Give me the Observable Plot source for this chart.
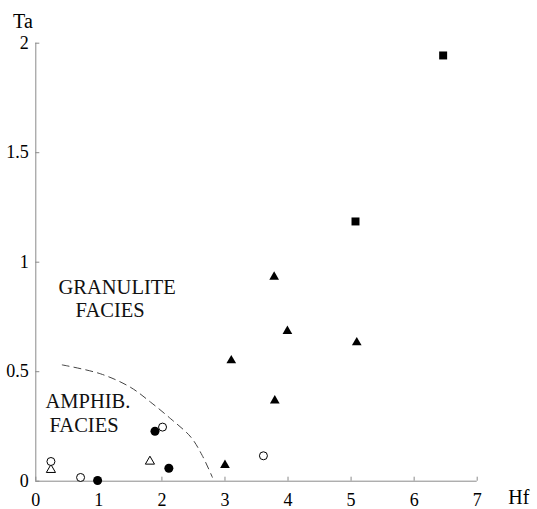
<!DOCTYPE html>
<html>
<head>
<meta charset="utf-8">
<script src="https://cdn.jsdelivr.net/npm/d3@7"></script>
<script src="https://cdn.jsdelivr.net/npm/@observablehq/plot@0.6"></script>
<style>
  html, body { margin: 0; padding: 0; background: #fff; }
  svg { display: block; }
  svg text { font-family: "Liberation Serif", "Times New Roman", serif; }
</style>
</head>
<body>
<div id="chart"></div>
<script>
// ---- data (Hf vs Ta) ----
const xTicks = [0, 1, 2, 3, 4, 5, 6, 7];
const yTicks = [0, 0.5, 1, 1.5, 2];
const yTickLabels = ["0", "0.5", "1", "1.5", "2"];

const filledSquareHf = [5.07, 6.46];
const filledSquareTa = [1.186, 1.944];

const filledTriangleHf = [3.0, 3.10, 3.78, 3.79, 3.99, 5.09];
const filledTriangleTa = [0.073, 0.551, 0.933, 0.368, 0.685, 0.633];

const openTriangleHf = [0.24, 1.81];
const openTriangleTa = [0.052, 0.09];

const openCircleHf = [0.24, 0.71, 2.01, 3.61];
const openCircleTa = [0.09, 0.017, 0.247, 0.116];

const filledCircleHf = [0.98, 1.89, 2.11];
const filledCircleTa = [0.003, 0.228, 0.059];

const boundaryHf = [0.42, 1.03, 1.50, 1.82, 2.14, 2.46, 2.64, 2.80];
const boundaryTa = [0.531, 0.490, 0.429, 0.361, 0.285, 0.201, 0.117, 0.018];

const regionLabels = ["GRANULITE", "FACIES", "AMPHIB.", "FACIES"];
const regionLabelHf = [0.36, 0.63, 0.154, 0.217];
const regionLabelTa = [0.853, 0.748, 0.332, 0.225];

const xLabel = "Hf";
const yLabel = "Ta";

// ---- build ----
const pts = (xs, ys) => xs.map((x, i) => ({x, y: ys[i]}));
const W = 537, H = 509;
const mL = 35.3, mR = 60.3, mT = 42.7, mB = 28.3;
const innerW = W - mL - mR, innerH = H - mT - mB;
const font = "Liberation Serif";
const axisGray = "#8a8a8a";

const chart = Plot.plot({
  width: W,
  height: H,
  marginLeft: mL,
  marginRight: mR,
  marginTop: mT,
  marginBottom: mB,
  style: {fontFamily: font, background: "#fff", color: "#000"},
  x: {domain: [0, 7]},
  y: {domain: [0, 2]},
  marks: [
    Plot.ruleY([0], {stroke: axisGray, strokeWidth: 1}),
    Plot.ruleX([0], {stroke: axisGray, strokeWidth: 1}),
    Plot.tickX(xTicks, {x: d => d, stroke: axisGray, insetTop: innerH - 4}),
    Plot.tickY(yTicks, {y: d => d, stroke: axisGray, insetRight: innerW - 4}),
    Plot.axisX({ticks: xTicks, tickSize: 0, tickPadding: 12, fontSize: 18, fontFamily: font, label: null, tickFormat: d => String(d)}),
    Plot.axisY({ticks: yTicks, tickSize: 0, tickPadding: 7, fontSize: 18, fontFamily: font, label: null, tickFormat: d => yTickLabels[yTicks.indexOf(d)]}),
    Plot.text([xLabel], {frameAnchor: "bottom-right", textAnchor: "start", lineAnchor: "bottom", dx: 31, dy: 23, fontSize: 20, fontFamily: font, fill: "#000"}),
    Plot.text([yLabel], {frameAnchor: "top-left", textAnchor: "end", lineAnchor: "bottom", dx: -3, dy: -15, fontSize: 20, fontFamily: font, fill: "#000"}),
    Plot.line(pts(boundaryHf, boundaryTa), {x: "x", y: "y", curve: "catmull-rom", stroke: "#444", strokeWidth: 1, strokeDasharray: "7,5"}),
    Plot.text(regionLabels, {x: (d, i) => regionLabelHf[i], y: (d, i) => regionLabelTa[i], text: d => d, textAnchor: "start", lineAnchor: "bottom", fontSize: 20.5, fontFamily: font, fill: "#111"}),
    Plot.dot(pts(filledSquareHf, filledSquareTa), {x: "x", y: "y", symbol: "square", r: 4.5, fill: "#000", stroke: "none"}),
    Plot.dot(pts(filledTriangleHf, filledTriangleTa), {x: "x", y: "y", symbol: "triangle", r: 3.6, fill: "#000", stroke: "none"}),
    Plot.dot(pts(openTriangleHf, openTriangleTa), {x: "x", y: "y", symbol: "triangle", r: 3.4, fill: "#fff", stroke: "#000", strokeWidth: 1}),
    Plot.dot(pts(openCircleHf, openCircleTa), {x: "x", y: "y", r: 4, fill: "#fff", stroke: "#000", strokeWidth: 1}),
    Plot.dot(pts(filledCircleHf, filledCircleTa), {x: "x", y: "y", r: 4.5, fill: "#000", stroke: "none"})
  ]
});
document.getElementById("chart").appendChild(chart);
</script>
</body>
</html>
